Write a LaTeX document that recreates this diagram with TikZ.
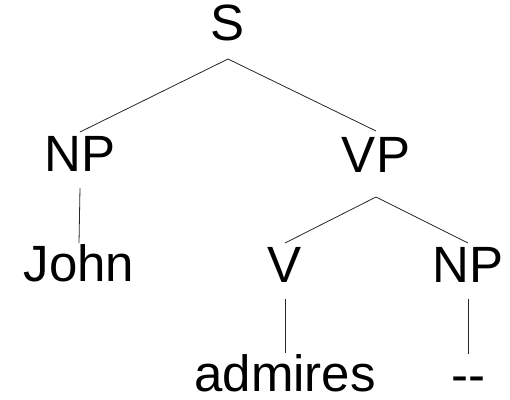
\documentclass[tikz,border=0pt]{standalone}
\usepackage{fontspec}
\setmainfont{Liberation Sans}
\begin{document}
\begin{tikzpicture}[x=1pt,y=-1pt,
  lbl/.style={inner sep=0pt, outer sep=0pt, anchor=base, text height=39pt, text depth=17pt,
    font=\fontsize{51}{60}\selectfont, text=black},
  leaf/.style={lbl, text depth=0pt},
  edge/.style={draw=black!85, line width=0.8pt}]
\useasboundingbox (0,0) rectangle (510,399);
\node[lbl, text depth=19pt] (S) at (228,40) {S};
\node[lbl] (NP1) at (80,171) {NP};
\node[lbl, text depth=25pt, text height=41pt] (VP) at (376,172) {VP};
\node[leaf, text height=38pt] (John) at (79,281) {John};
\node[lbl] (V) at (285,282) {V};
\node[lbl] (NP2) at (468,282) {NP};
\node[leaf, text height=38pt] (adm) at (285,391) {admires};
\node[leaf, text height=38pt] (gap) at (468,392) {-{}-};
\draw[edge] (NP1.north) -- (S.south) -- (VP.north);
\draw[edge] (V.north) -- (VP.south) -- (NP2.north);
\draw[edge] (NP1.south) -- (John.north);
\draw[edge] (V.south) -- (adm.north);
\draw[edge] (NP2.south) -- (gap.north);
\end{tikzpicture}
\end{document}
